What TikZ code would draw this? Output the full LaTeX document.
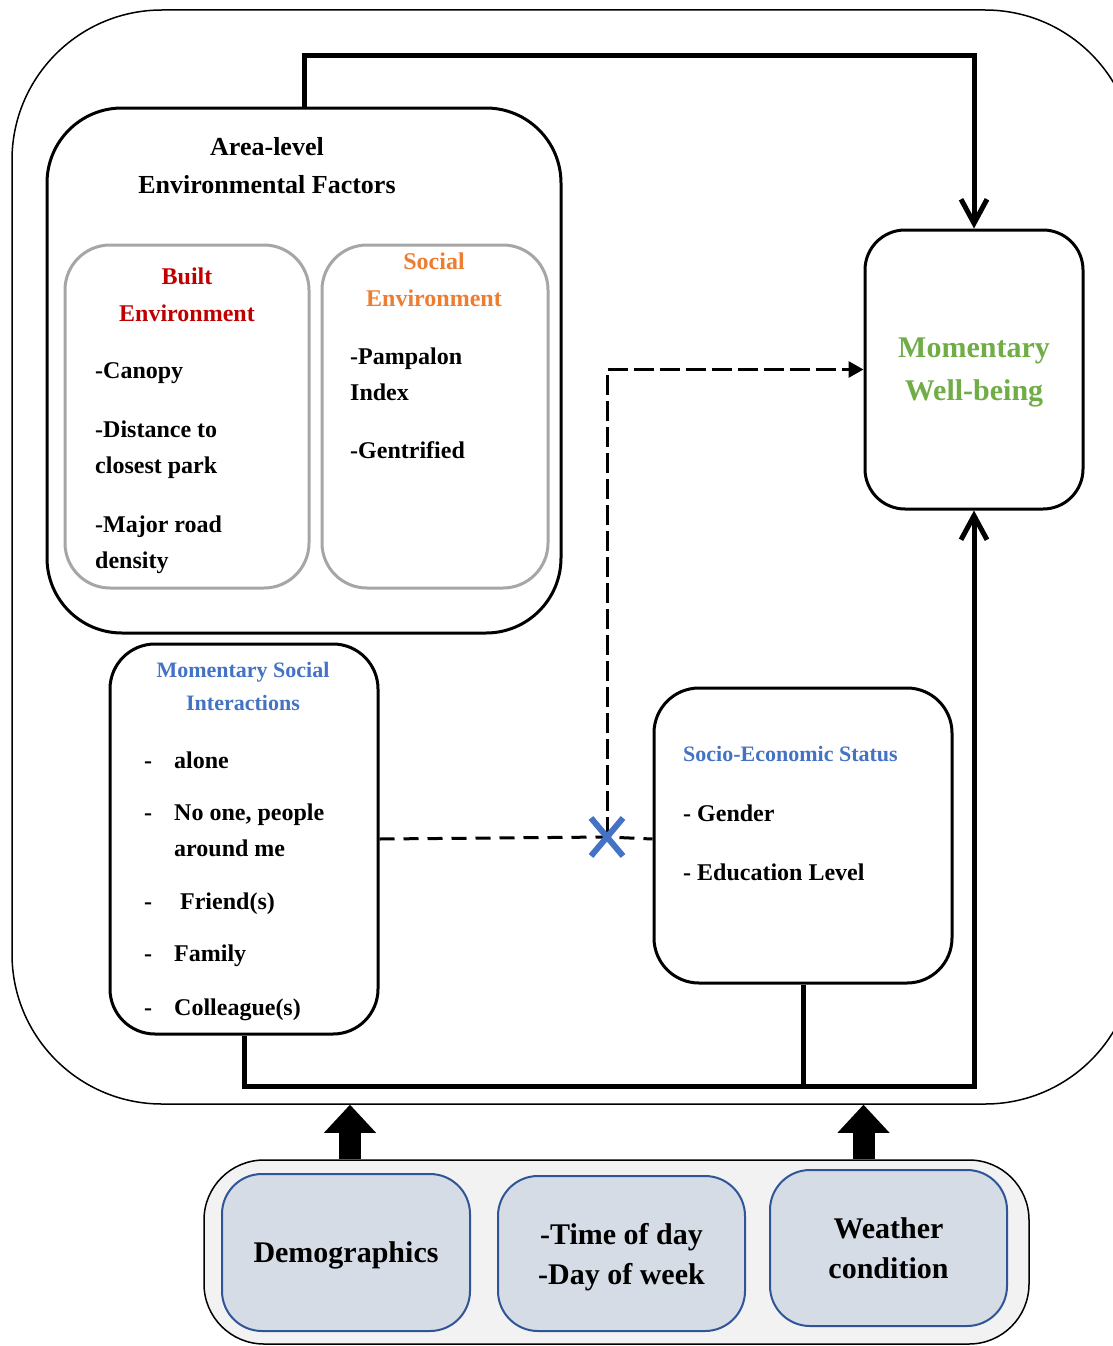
\documentclass[tikz,border=0pt]{standalone}
\usepackage{fontspec}
\setmainfont{Liberation Serif}
\definecolor{builtRed}{HTML}{C00000}
\definecolor{socialOrange}{HTML}{ED7D31}
\definecolor{wellGreen}{HTML}{70AD47}
\definecolor{titleBlue}{HTML}{4472C4}
\definecolor{paneGray}{HTML}{A6A6A6}
\definecolor{ctxNavy}{HTML}{2F5597}
\definecolor{ctxFill}{HTML}{D6DCE5}
\definecolor{ctxBack}{HTML}{F2F2F2}
\usetikzlibrary{arrows.meta, positioning, shapes.misc, calc}
\newcommand{\itemdash}{\makebox[30pt][l]{-}}

\begin{document}
\begin{tikzpicture}[
    x=1pt, y=-1pt,
    panel/.style={draw, line width=3pt, rounded corners=45pt, inner sep=0pt},
    subpanel/.style={panel, draw=paneGray},
    ctxbox/.style={
      draw=ctxNavy,
      fill=ctxFill,
      line width=2pt,
      rounded corners=40pt,
      align=center,
      text depth=0pt,
      font=\fontsize{30}{40}\selectfont\bfseries,
    },
    head/.style={font=\fontsize{24}{37}\selectfont\bfseries, align=center},
    subhead/.style={font=\fontsize{22}{33}\selectfont\bfseries, text=titleBlue},
    items/.style={font=\fontsize{24}{36}\selectfont\bfseries, align=left, anchor=base west, inner sep=0pt},
    flow/.style={line width=5pt},
    flowarr/.style={flow, -{Straight Barb[length=24pt, width=26pt]}},
    dashline/.style={line width=3pt, dash pattern=on 15pt off 9pt},
    dasharr/.style={line width=3pt, dash pattern=on 20pt off 6pt, -{Triangle[length=15pt, width=16pt]}},
    lift/.style={line width=22pt, -{Triangle[length=28pt, width=52pt, line width=0pt]}},
  ]
    \useasboundingbox (0,0) rectangle (1112,1346);

    % outer frame
    \node[draw, line width=1.5pt, rounded corners=150pt, minimum width=1123pt, minimum height=1094pt] (frame) at (573.5,557) {};

    % area-level factors
    \node[panel, rounded corners=75pt, minimum width=514pt, minimum height=525pt] (env) at (304,370.5) {};
    \node[head, font=\fontsize{26}{38}\selectfont\bfseries] (envtitle) at (267,166) {Area-level\\Environmental Factors};

    % built environment
    \node[subpanel, minimum width=244pt, minimum height=343pt] (built) at (187,416.5) {};
    \node[head, text=builtRed] (builttitle) at (187,294.5) {Built\\Environment};
    \node[items] (builtlist) at (95,568) {-Canopy\\[23pt]-Distance to\\closest park\\[23pt]-Major road\\density};

    % social environment
    \node[subpanel, minimum width=226pt, minimum height=343pt] (social) at (435,416.5) {};
    \node[head, text=socialOrange] (socialtitle) at (434,279.5) {Social\\Environment};
    \node[items] (sociallist) at (350,458) {-Pampalon\\Index\\[22pt]-Gentrified};

    % well-being
    \node[panel, rounded corners=40pt, minimum width=218pt, minimum height=279pt, align=center, text depth=0pt,
          text=wellGreen, font=\fontsize{30}{43}\selectfont\bfseries] (wb) at (974,369.5) {Momentary\\Well-being};

    % social interactions
    \node[panel, minimum width=268pt, minimum height=390pt] (msi) at (244,839) {};
    \node[subhead, align=center] (msititle) at (243,686.5) {Momentary Social\\Interactions};
    \node[items] (msilist) at (144,1015) {\itemdash alone\\[16pt]\itemdash No one, people\\\hspace*{30pt}around me\\[17pt]\itemdash\ Friend(s)\\[16pt]\itemdash Family\\[18pt]\itemdash Colleague(s)};

    % socio-economic status
    \node[panel, minimum width=298pt, minimum height=295pt] (ses) at (803,835.5) {};
    \node[subhead, anchor=base west, inner sep=0pt] (sestitle) at (683,761) {Socio-Economic Status};
    \node[items] (seslist) at (683,880) {- Gender\\[23pt]- Education Level};

    % arrows
    \draw[flowarr] (env.north) -- ++(0,-51) -| (wb.north);
    \draw[flowarr] (msi.south) -- ++(0,51) -| (wb.south);
    \draw[flow] (ses.south) -- ++(0,102);

    % moderation
    \coordinate (cut) at (607,837);
    \draw[dashline] (msi.east) -- (cut) -- (ses.west |- msi.east);
    \draw[dasharr] (cut) |- (wb.west);
    \node[cross out, draw=titleBlue, line width=6pt, minimum width=26pt, minimum height=32pt, inner sep=0pt] (cutmark) at (cut) {};

    % covariates
    \node[draw, fill=ctxBack, line width=1.5pt, rounded corners=60pt, minimum width=825pt, minimum height=184pt] (ctx) at (616.5,1252) {};
    \node[ctxbox, minimum width=248pt, minimum height=157pt] (demo) at (346,1252.5) {Demographics};
    \node[ctxbox, minimum width=247pt, minimum height=155pt] (time) at (621.5,1253.5) {-Time of day\\-Day of week};
    \node[ctxbox, minimum width=237pt, minimum height=156pt] (weather) at (888.5,1248) {Weather\\condition};

    \draw[lift] ($(demo.north |- ctx.north)+(4,0)$) -- ($(demo.north |- frame.south)+(4,0)$);
    \draw[lift] ($(weather.north |- ctx.north)+(-25,0)$) -- ($(weather.north |- frame.south)+(-25,0)$);
  \end{tikzpicture}
\end{document}
